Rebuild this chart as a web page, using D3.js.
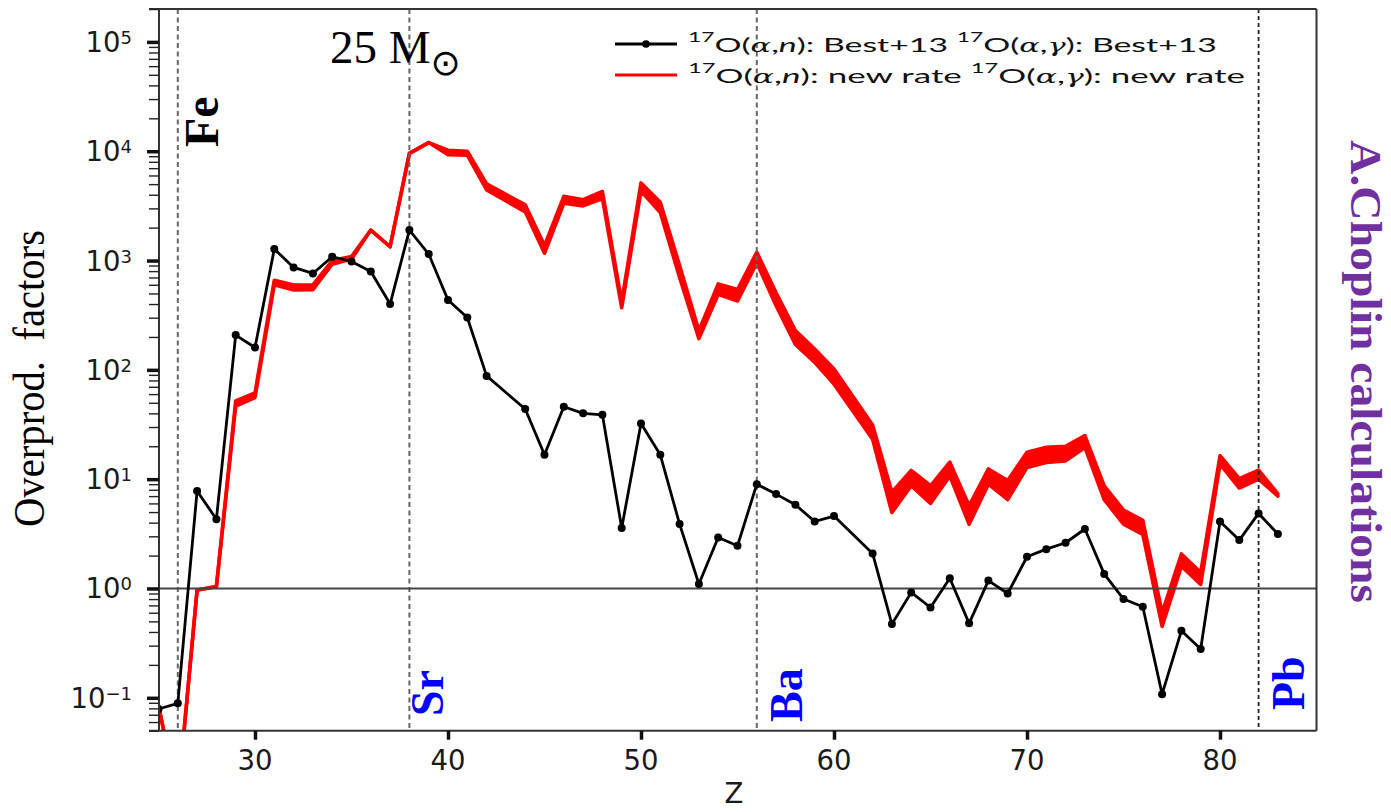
<!DOCTYPE html>
<html>
<head>
<meta charset="utf-8">
<script src="https://cdn.jsdelivr.net/npm/d3@7"></script>
<style>
  body { margin: 0; background: #fff; }
  svg { display: block; }
  text { white-space: pre; }
</style>
</head>
<body>
<svg id="chart" width="1391" height="812"></svg>
<script>
// Atomic numbers (Tc, Z=43, and Pm, Z=61, have no stable isotopes and are skipped)
const zNumbers = [25, 26, 27, 28, 29, 30, 31, 32, 33, 34, 35, 36, 37, 38, 39, 40, 41, 42,
  44, 45, 46, 47, 48, 49, 50, 51, 52, 53, 54, 55, 56, 57, 58, 59, 60,
  62, 63, 64, 65, 66, 67, 68, 69, 70, 71, 72, 73, 74, 75, 76, 77, 78, 79, 80, 81, 82, 83];

// Overproduction factors with the Best+13 17O(a,n) and 17O(a,g) rates
const bestRates = [0.079, 0.089, 7.8, 4.3, 208, 160, 1275, 865, 762, 1083, 982, 794, 400, 1900, 1146, 435, 301, 88,
  43.8, 16.7, 46, 40, 38.8, 3.57, 32.3, 16.7, 3.88, 1.10, 2.93, 2.46, 9.0, 7.3, 5.83, 4.1, 4.6,
  2.09, 0.472, 0.92, 0.67, 1.24, 0.48, 1.18, 0.90, 1.95, 2.29, 2.62, 3.5, 1.36, 0.80, 0.68, 0.108, 0.41, 0.279, 4.1, 2.77, 4.86, 3.15];

// Overproduction factors with the new rates: lower and upper edge of the spread
const newRateLow = [0.085, 0.012, 0.97, 1.04, 46.7, 55.8, 600, 538, 540, 925, 1030, 1900, 1337, 9550, 12000, 9300, 9200, 4420,
  2790, 1166, 3340, 3160, 3690, 370, 4330, 2750, 700, 193, 492, 427, 950, 386, 171, 117, 74,
  23.2, 4.95, 8.7, 6.0, 10.7, 3.87, 9.0, 6.5, 12.8, 14.2, 14.7, 19.5, 6.5, 3.87, 3.13, 0.45, 1.6, 1.09, 13.7, 8.3, 10, 7.0];
const newRateHigh = [0.085, 0.012, 0.97, 1.04, 52, 61.5, 660, 598, 600, 1000, 1090, 1900, 1337, 9550, 12000, 10200, 10000, 5020,
  3230, 1370, 3870, 3600, 4280, 420, 5130, 3410, 900, 228, 611, 543, 1190, 507, 229, 155, 102,
  31.3, 7.6, 12.0, 8.7, 14.3, 5.7, 12.4, 9.7, 17.6, 19.6, 20, 25, 8.7, 5.2, 4.2, 0.6, 2.07, 1.4, 16.4, 10.1, 12.1, 7.35];

const xTickValues = [30, 40, 50, 60, 70, 80];
const yDecades = [0.1, 1, 10, 100, 1000, 10000, 100000];
const yExponents = ["\u22121", "0", "1", "2", "3", "4", "5"];

const elementZ = [26, 38, 56, 82];
const elementNames = ["Fe", "Sr", "Ba", "Pb"];

const legendBest = [
  { t: "17", sup: true }, { t: "O(" }, { t: "\u03b1", greek: true }, { t: "," }, { t: "n", it: true },
  { t: "): Best+13 " }, { t: "17", sup: true }, { t: "O(" }, { t: "\u03b1", greek: true }, { t: "," },
  { t: "\u03b3", greek: true }, { t: "): Best+13" }
];
const legendNew = [
  { t: "17", sup: true }, { t: "O(" }, { t: "\u03b1", greek: true }, { t: "," }, { t: "n", it: true },
  { t: "): new rate " }, { t: "17", sup: true }, { t: "O(" }, { t: "\u03b1", greek: true }, { t: "," },
  { t: "\u03b3", greek: true }, { t: "): new rate" }
];

const svg = d3.select("#chart");
const plotL = 158.5, plotR = 1316.5, plotT = 9, plotB = 730.7;

const x = d3.scaleLinear().domain([25, 85]).range([plotL, plotR]);
const y = d3.scaleLog().domain([0.05, 2e5]).range([plotB, plotT]);

const rows = zNumbers.map((z, i) => ({ z, best: bestRates[i], lo: newRateLow[i], hi: newRateHigh[i] }));

svg.append("defs").append("clipPath").attr("id", "plotArea")
  .append("rect").attr("x", plotL).attr("y", plotT).attr("width", plotR - plotL).attr("height", plotB - plotT);

const plot = svg.append("g").attr("clip-path", "url(#plotArea)");

// New-rate spread: filled band with stroked edges
plot.append("path").datum(rows)
  .attr("fill", "#ff0000")
  .attr("d", d3.area().x(d => x(d.z)).y0(d => y(d.lo)).y1(d => y(d.hi)));
[d => d.lo, d => d.hi].forEach(acc => {
  plot.append("path").datum(rows)
    .attr("fill", "none").attr("stroke", "#ff0000").attr("stroke-width", 3.6)
    .attr("stroke-linejoin", "round").attr("stroke-linecap", "round")
    .attr("d", d3.line().x(d => x(d.z)).y(d => y(acc(d))));
});

// Reference elements
elementZ.forEach((z, i) => {
  const last = i === elementZ.length - 1;
  plot.append("line")
    .attr("x1", x(z)).attr("x2", x(z)).attr("y1", plotT).attr("y2", plotB)
    .attr("stroke", last ? "#222" : "#666").attr("stroke-width", last ? 1.8 : 2)
    .attr("stroke-dasharray", last ? "4,3" : "5,3.5");
});

// Unity line
plot.append("line")
  .attr("x1", plotL).attr("x2", plotR).attr("y1", y(1)).attr("y2", y(1))
  .attr("stroke", "#444").attr("stroke-width", 1.8);

// Best+13 curve
plot.append("path").datum(rows)
  .attr("fill", "none").attr("stroke", "#000").attr("stroke-width", 2.8)
  .attr("stroke-linejoin", "round")
  .attr("d", d3.line().x(d => x(d.z)).y(d => y(d.best)));
plot.selectAll("circle.best").data(rows).enter().append("circle")
  .attr("class", "best")
  .attr("cx", d => x(d.z)).attr("cy", d => y(d.best)).attr("r", 4).attr("fill", "#000");

// Frame
const frame = svg.append("g").attr("stroke", "#333").attr("stroke-width", 2);
frame.append("line").attr("x1", 149).attr("x2", plotR).attr("y1", plotT).attr("y2", plotT);
frame.append("line").attr("x1", 149).attr("x2", plotR).attr("y1", plotB).attr("y2", plotB);
frame.append("line").attr("x1", plotL + 0.5).attr("x2", plotL + 0.5).attr("y1", plotT).attr("y2", plotB);
frame.append("line").attr("x1", plotR).attr("x2", plotR).attr("y1", plotT).attr("y2", plotB);

// Y axis: major and minor ticks
const minorValues = [];
for (let e = -2; e <= 5; e++) for (let m = 2; m <= 9; m++) {
  const v = m * Math.pow(10, e);
  if (v >= 0.05 && v <= 2e5) minorValues.push(v);
}
const yMinor = svg.append("g").attr("transform", `translate(${plotL + 0.5},0)`)
  .call(d3.axisLeft(y).tickValues(minorValues).tickSize(10).tickFormat(""));
yMinor.select(".domain").remove();
yMinor.selectAll(".tick line").attr("stroke", "#222").attr("stroke-width", 1.4);

const yMajor = svg.append("g").attr("transform", `translate(${plotL + 0.5},0)`)
  .call(d3.axisLeft(y).tickValues(yDecades).tickSize(12).tickFormat(""));
yMajor.select(".domain").remove();
yMajor.selectAll(".tick line").attr("stroke", "#111").attr("stroke-width", 3.5);

yDecades.forEach((v, i) => {
  const t = svg.append("text")
    .attr("x", 132).attr("y", y(v) + 10)
    .attr("text-anchor", "end")
    .attr("font-family", "DejaVu Sans").attr("font-size", 27.5).attr("fill", "#1a1a1a");
  t.append("tspan").text("10");
  t.append("tspan").attr("font-size", 18).attr("dy", -8).text(yExponents[i]);
});

// X axis
const xAxis = svg.append("g").attr("transform", `translate(0,${plotB})`)
  .call(d3.axisBottom(x).tickValues(xTickValues).tickSize(9).tickFormat(""));
xAxis.select(".domain").remove();
xAxis.selectAll(".tick line").attr("stroke", "#111").attr("stroke-width", 3.5);
xTickValues.forEach(v => {
  svg.append("text")
    .attr("x", x(v)).attr("y", 770)
    .attr("text-anchor", "middle")
    .attr("font-family", "DejaVu Sans").attr("font-size", 27.5).attr("fill", "#1a1a1a")
    .text(v);
});

// Axis titles
svg.append("text")
  .attr("x", 734).attr("y", 803).attr("text-anchor", "middle")
  .attr("font-family", "DejaVu Sans").attr("font-size", 27.5).attr("fill", "#1a1a1a")
  .text("Z");

svg.append("text")
  .attr("transform", "translate(44,378.5) rotate(-90)")
  .attr("text-anchor", "middle")
  .attr("font-family", "Liberation Serif").attr("font-size", 44).attr("fill", "#000")
  .attr("textLength", 297).attr("lengthAdjust", "spacingAndGlyphs")
  .text("Overprod.  factors");

// Stellar mass
const massLabel = svg.append("text")
  .attr("x", 330).attr("y", 63.3)
  .attr("font-family", "Liberation Serif").attr("font-size", 47).attr("fill", "#000");
massLabel.append("tspan").text("25 M");
massLabel.append("tspan").attr("font-family", "DejaVu Sans").attr("font-size", 36)
  .attr("dy", 12).text("\u2299");

// Element labels
const elementLayout = {
  Fe: { bx: 218, by: 147, color: "#000" },
  Sr: { bx: 443, by: 716, color: "#0000ff" },
  Ba: { bx: 802, by: 722, color: "#0000ff" },
  Pb: { bx: 1304, by: 710, color: "#0000ff" }
};
elementNames.forEach(name => {
  const p = elementLayout[name];
  svg.append("text")
    .attr("transform", `translate(${p.bx},${p.by}) rotate(-90)`)
    .attr("font-family", "Liberation Serif").attr("font-weight", "bold")
    .attr("font-size", name === "Fe" ? 48 : 46).attr("fill", p.color)
    .text(name);
});

// Author credit
svg.append("text")
  .attr("transform", "translate(1351,140) rotate(90)")
  .attr("font-family", "Liberation Serif").attr("font-weight", "bold")
  .attr("font-size", 43.5).attr("fill", "#7030a0")
  .attr("textLength", 463).attr("lengthAdjust", "spacingAndGlyphs")
  .text("A.Choplin calculations");

// Legend
function legendText(segments, x0, yBase, width) {
  const t = svg.append("text")
    .attr("x", x0).attr("y", yBase)
    .attr("font-family", "Lato, 'Open Sans', sans-serif").attr("font-size", 20).attr("fill", "#111")
    .attr("textLength", width).attr("lengthAdjust", "spacingAndGlyphs");
  let raised = false;
  segments.forEach(s => {
    const ts = t.append("tspan").text(s.t);
    if (s.sup) { ts.attr("font-size", 13.5).attr("dy", raised ? 0 : -10); raised = true; }
    else if (raised) { ts.attr("dy", 10); raised = false; }
    if (s.greek) ts.attr("font-family", "DejaVu Serif").attr("font-style", "italic").attr("font-size", 18);
    if (s.it) ts.attr("font-style", "italic");
  });
}
svg.append("line").attr("x1", 615).attr("x2", 677).attr("y1", 44).attr("y2", 44)
  .attr("stroke", "#000").attr("stroke-width", 3);
svg.append("circle").attr("cx", 646).attr("cy", 44).attr("r", 3.8).attr("fill", "#000");
legendText(legendBest, 688, 51.7, 529);

svg.append("line").attr("x1", 615).attr("x2", 677).attr("y1", 75).attr("y2", 75)
  .attr("stroke", "#ff0000").attr("stroke-width", 3);
legendText(legendNew, 688, 83.3, 557);
</script>
</body>
</html>
